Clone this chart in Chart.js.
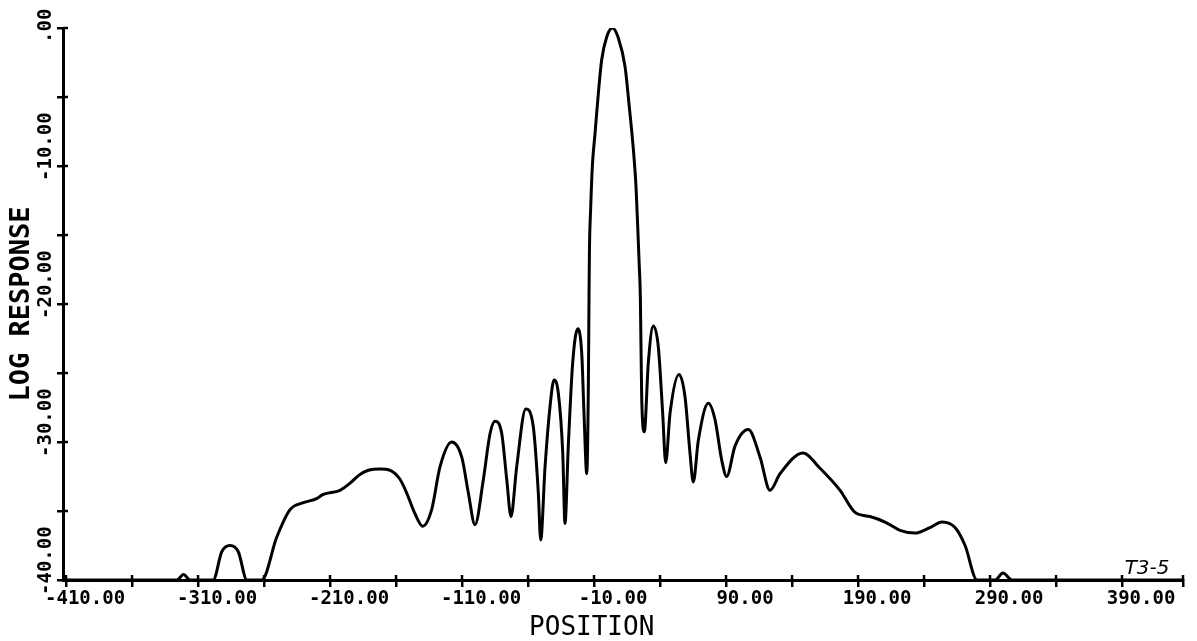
<!DOCTYPE html>
<html>
<head>
<meta charset="utf-8">
<script src="https://cdn.jsdelivr.net/npm/chart.js@4.4.1/dist/chart.umd.min.js"></script>
<style>
  html, body { margin: 0; padding: 0; background: #fff; }
  canvas { display: block; }
</style>
</head>
<body>
<canvas id="c" width="1197" height="641"></canvas>
<script>
// ---- data ----
const positions = [
  -412, -326, -321, -316, -298.5, -292, -285.8, -279.5, -273,
  -261.7, -250.4, -240.3, -230.2, -220.1, -215.1, -202.4, -195, -188, -181, -172, -164.5, -157,
  -151.9, -145.6, -139.8, -133, -126.7, -117.8, -110.2, -105.2, -100.2,
  -93.9, -88.8, -85.0, -79.9, -76.1, -72.9, -68.6, -61.7, -56.0, -52.2, -50.4,
  -47.1, -43.3, -40.3, -37.0, -33.7, -32.0, -29.5, -26.2, -22.3, -19.3, -17.6, -15.5,
  -14.3, -13.8, -13.5, -12.5, -11.3, -9.2, -6.7, -4.2, -0.4, 3.9, 8.5, 13.5, 16.7,
  19.8, 21.8, 23.1, 24.3, 25.1, 26.1, 28.1, 31.1, 34.9, 38.7, 42.0, 44.3, 47.6,
  54.4, 58.9, 62.7, 65.2, 69.0, 76.6, 81.7, 86.7, 90.5, 96.8, 106.9, 115.8, 123.3,
  130.9, 148.3, 161.2, 176.4, 187.7, 199.1, 210.5, 221.8, 233.2, 244.5, 253.6,
  263.5, 271.1, 280.2, 293.8, 299.8, 306.7, 437
];
const logResponse = [
  -40, -40, -39.6, -40, -40, -37.95, -37.5, -37.95, -40,
  -40, -36.9, -34.9, -34.4, -34.1, -33.8, -33.5, -33.0, -32.4, -32.05, -31.95, -32.05, -32.7,
  -33.7, -35.2, -36.1, -34.9, -31.8, -30.0, -31.1, -33.7, -36.0,
  -32.75, -29.4, -28.5, -29.4, -32.75, -35.4, -31.8, -27.6, -28.9, -33.7, -37.1,
  -31.8, -27.4, -25.5, -26.5, -30.8, -35.9, -30.3, -24.3, -21.8, -23.6, -27.9, -32.3,
  -26, -19.5, -16.3, -12.95, -10.05, -7.6, -4.7, -2.3, -0.65, 0, -0.75, -2.8, -5.7,
  -8.8, -11.5, -14.4, -17.3, -19.5, -26.7, -29.25, -24.3, -21.6, -23.1, -27.9, -31.5, -27.9,
  -25.1, -26.7, -30.8, -32.9, -29.9, -27.2, -28.4, -31.3, -32.5, -30.3, -29.1, -31.1, -33.5,
  -32.3, -30.8, -31.9, -33.5, -35.1, -35.4, -35.8, -36.4, -36.6, -36.2, -35.8,
  -36.2, -37.5, -40, -40, -39.5, -40, -40
];
const xTickValues = [-410, -310, -210, -110, -10, 90, 190, 290, 390];
const xTickLabels = ['-410.00', '-310.00', '-210.00', '-110.00', '-10.00', '90.00', '190.00', '290.00', '390.00'];
const yTickValues = [0, -10, -20, -30, -40];
const yTickLabels = ['.00', '-10.00', '-20.00', '-30.00', '-40.00'];
const xTitle = 'POSITION';
const yTitle = 'LOG RESPONSE';
const annotationText = 'T3-5';

// ---- chart ----
const X_MIN = -412.3, X_MAX = 436.2, X_FIRST_TICK = -410, X_STEP = 50;
const points = positions.map((p, i) => ({x: p, y: logResponse[i]}));
const tickFont = {family: '"DejaVu Sans Mono", monospace', weight: 'bold', size: 19};

const extras = {
  id: 'extras',
  afterDraw(chart) {
    const {ctx, chartArea} = chart;
    const xs = chart.scales.x, ys = chart.scales.y;
    ctx.save();
    ctx.strokeStyle = '#000';
    ctx.lineWidth = 2.5;
    xs.ticks.forEach(t => {
      const px = xs.getPixelForValue(t.value);
      ctx.beginPath(); ctx.moveTo(px, chartArea.bottom); ctx.lineTo(px, chartArea.bottom - 5); ctx.stroke();
    });
    ys.ticks.forEach(t => {
      const py = ys.getPixelForValue(t.value);
      ctx.beginPath(); ctx.moveTo(chartArea.left, py); ctx.lineTo(chartArea.left + 5, py); ctx.stroke();
    });
    ctx.fillStyle = '#000';
    ctx.font = 'italic 20px "DejaVu Sans"';
    ctx.textAlign = 'left';
    ctx.textBaseline = 'alphabetic';
    ctx.fillText(annotationText, xs.getPixelForValue(392), ys.getPixelForValue(-39.6));
    ctx.restore();
  }
};

new Chart(document.getElementById('c'), {
  type: 'line',
  data: {
    datasets: [{
      data: points,
      borderColor: '#000',
      borderWidth: 3,
      pointRadius: 0,
      fill: false,
      cubicInterpolationMode: 'monotone'
    }]
  },
  options: {
    responsive: false,
    animation: false,
    events: [],
    layout: {padding: {left: 0, right: 14, top: 28, bottom: 0}},
    plugins: {legend: {display: false}, tooltip: {enabled: false}},
    scales: {
      x: {
        type: 'linear',
        min: X_MIN, max: X_MAX,
        afterFit: s => { s.height = 61; },
        afterBuildTicks: s => {
          const t = [];
          for (let v = X_FIRST_TICK; v <= X_MAX; v += X_STEP) t.push({value: v});
          t.push({value: X_MAX});
          s.ticks = t;
        },
        ticks: {
          autoSkip: false,
          maxRotation: 0, minRotation: 0,
          labelOffset: 19,
          padding: 1,
          color: '#000',
          font: tickFont,
          callback: v => { const i = xTickValues.indexOf(v); return i >= 0 ? xTickLabels[i] : ''; }
        },
        grid: {drawOnChartArea: false, tickLength: 7, color: '#000', lineWidth: 2.5},
        border: {color: '#000', width: 3},
        title: {
          display: true, text: xTitle + '    ', color: '#000',
          font: {family: '"DejaVu Sans Mono", monospace', size: 26, lineHeight: 1},
          padding: {top: 0, bottom: 0}
        }
      },
      y: {
        type: 'linear',
        min: -40, max: 0,
        afterFit: s => { s.width = 63; },
        ticks: {
          stepSize: 5,
          autoSkip: false,
          minRotation: 90, maxRotation: 90,
          mirror: true,
          crossAlign: 'near',
          padding: -17,
          labelOffset: 15,
          color: '#000',
          font: tickFont,
          callback: v => { const i = yTickValues.indexOf(v); return i >= 0 ? yTickLabels[i] : ''; }
        },
        grid: {drawOnChartArea: false, tickLength: 6, color: '#000', lineWidth: 2.5},
        border: {color: '#000', width: 3},
        title: {
          display: true, text: yTitle, color: '#000',
          font: {family: '"DejaVu Sans Mono", monospace', weight: 'bold', size: 27, lineHeight: 1},
          padding: {top: 8.5, bottom: 0}
        }
      }
    }
  },
  plugins: [extras]
});
</script>
</body>
</html>
